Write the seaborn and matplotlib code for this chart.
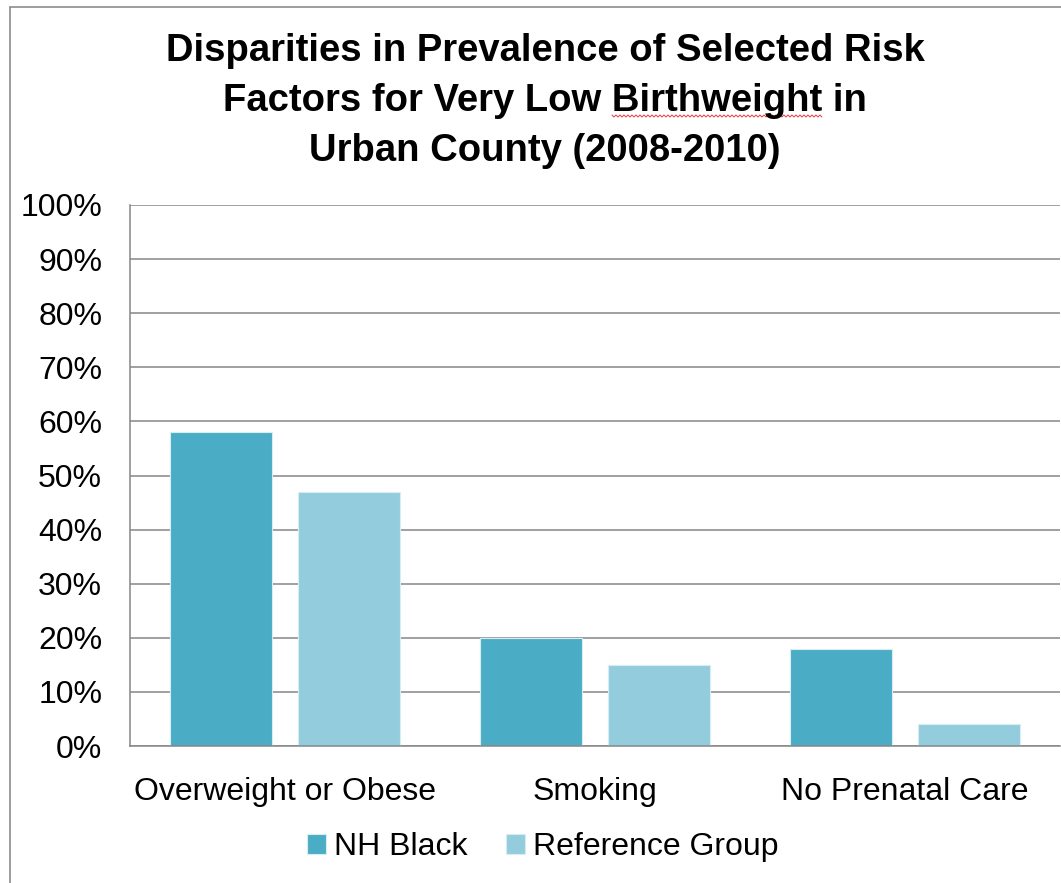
import matplotlib
matplotlib.use("Agg")
import matplotlib.pyplot as plt
import seaborn as sns
import pandas as pd
import numpy as np
from matplotlib.lines import Line2D
from matplotlib.ticker import MultipleLocator, PercentFormatter

# ---- data ----
categories = ["Overweight or Obese", "Smoking", "No Prenatal Care"]
groups = ["NH Black", "Reference Group"]
nh_black = [58, 20, 18]
reference_group = [47, 15, 4]
title_lines = ["Disparities in Prevalence of Selected Risk",
               "Factors for Very Low Birthweight in",
               "Urban County (2008-2010)"]
colors = ["#4BACC6", "#93CDDD"]

df = pd.DataFrame({
    "Factor": categories * 2,
    "Group": [groups[0]] * 3 + [groups[1]] * 3,
    "Value": nh_black + reference_group,
})

sns.set_theme(style="white")
plt.rcParams["font.family"] = ["Liberation Sans", "DejaVu Sans"]
for k in ["text.color", "axes.labelcolor", "xtick.color", "ytick.color"]:
    plt.rcParams[k] = "black"

W, H = 1061, 883
fig = plt.figure(figsize=(W / 100, H / 100), dpi=100)
ax = fig.add_axes([130 / W, 1 - 746 / H, (1060 - 130) / W, (746 - 205) / H])

sns.barplot(data=df, x="Factor", y="Value", hue="Group", palette=colors,
            saturation=1, width=0.828, gap=0.205, ax=ax,
            edgecolor="#d6edf3", linewidth=0.8, legend=True)

ax.set_ylim(0, 100)
ax.set_xlim(-0.5, 2.5)
ax.yaxis.set_major_locator(MultipleLocator(10))
ax.yaxis.set_major_formatter(PercentFormatter(decimals=0))
ax.grid(axis="y", color="#868686", linewidth=1.1)
ax.set_axisbelow(True)
for s in ["top", "right"]:
    ax.spines[s].set_visible(False)
for s in ["left", "bottom"]:
    ax.spines[s].set_color("#868686")
    ax.spines[s].set_linewidth(1.1)
ax.set_xlabel("")
ax.set_ylabel("")
ax.tick_params(axis="y", labelsize=23, pad=20, length=0, colors="black")
ax.tick_params(axis="x", labelsize=23, pad=22, length=0, colors="black")

handles, labels = ax.get_legend_handles_labels()
ax.get_legend().remove()
fig.legend(handles, labels, loc="center", bbox_to_anchor=(543 / W, 1 - 847 / H),
           ncol=2, frameon=False, fontsize=23, handlelength=0.6, handleheight=0.6,
           handletextpad=0.25, columnspacing=1.2, borderpad=0, borderaxespad=0)

# title
baselines = [61, 111, 161]
tprops = dict(fontweight="bold", color="black", fontsize=27.5,
              family=["Liberation Sans", "DejaVu Sans"])
title_texts = []
for line, yb in zip(title_lines, baselines):
    t = fig.text(545 / W, 1 - yb / H, line, ha="center", va="baseline", **tprops)
    title_texts.append(t)

# spell-check style wavy underline under "Birthweight" (as in the screenshot)
fig.canvas.draw()
renderer = fig.canvas.get_renderer()
line2 = title_texts[1]
bb = line2.get_window_extent(renderer)
word = "Birthweight"
prefix = line2.get_text().split(word)[0]
tmp = fig.text(0, 0, prefix, **tprops)
pw = tmp.get_window_extent(renderer).width
tmp.set_text(word)
ww = tmp.get_window_extent(renderer).width
tmp.remove()
x0 = bb.x0 + pw
x1 = x0 + ww
yline = H - 116
xs = np.arange(x0, x1 + 0.1, 2.0)
ys = yline + np.where(np.arange(len(xs)) % 2 == 0, 1.0, -1.0)
fig.add_artist(Line2D(xs / W, ys / H, transform=fig.transFigure,
                      color="#e0393e", linewidth=0.7))

# chart border (top and left)
bc = "#8c8c8c"
fig.add_artist(Line2D([10 / W, 10 / W], [1 - 7 / H, -0.1], transform=fig.transFigure,
                      color=bc, linewidth=1.2))
fig.add_artist(Line2D([10 / W, 1.1], [1 - 7 / H, 1 - 7 / H], transform=fig.transFigure,
                      color=bc, linewidth=1.2))

fig.savefig("out.png", dpi=100, facecolor="white")
